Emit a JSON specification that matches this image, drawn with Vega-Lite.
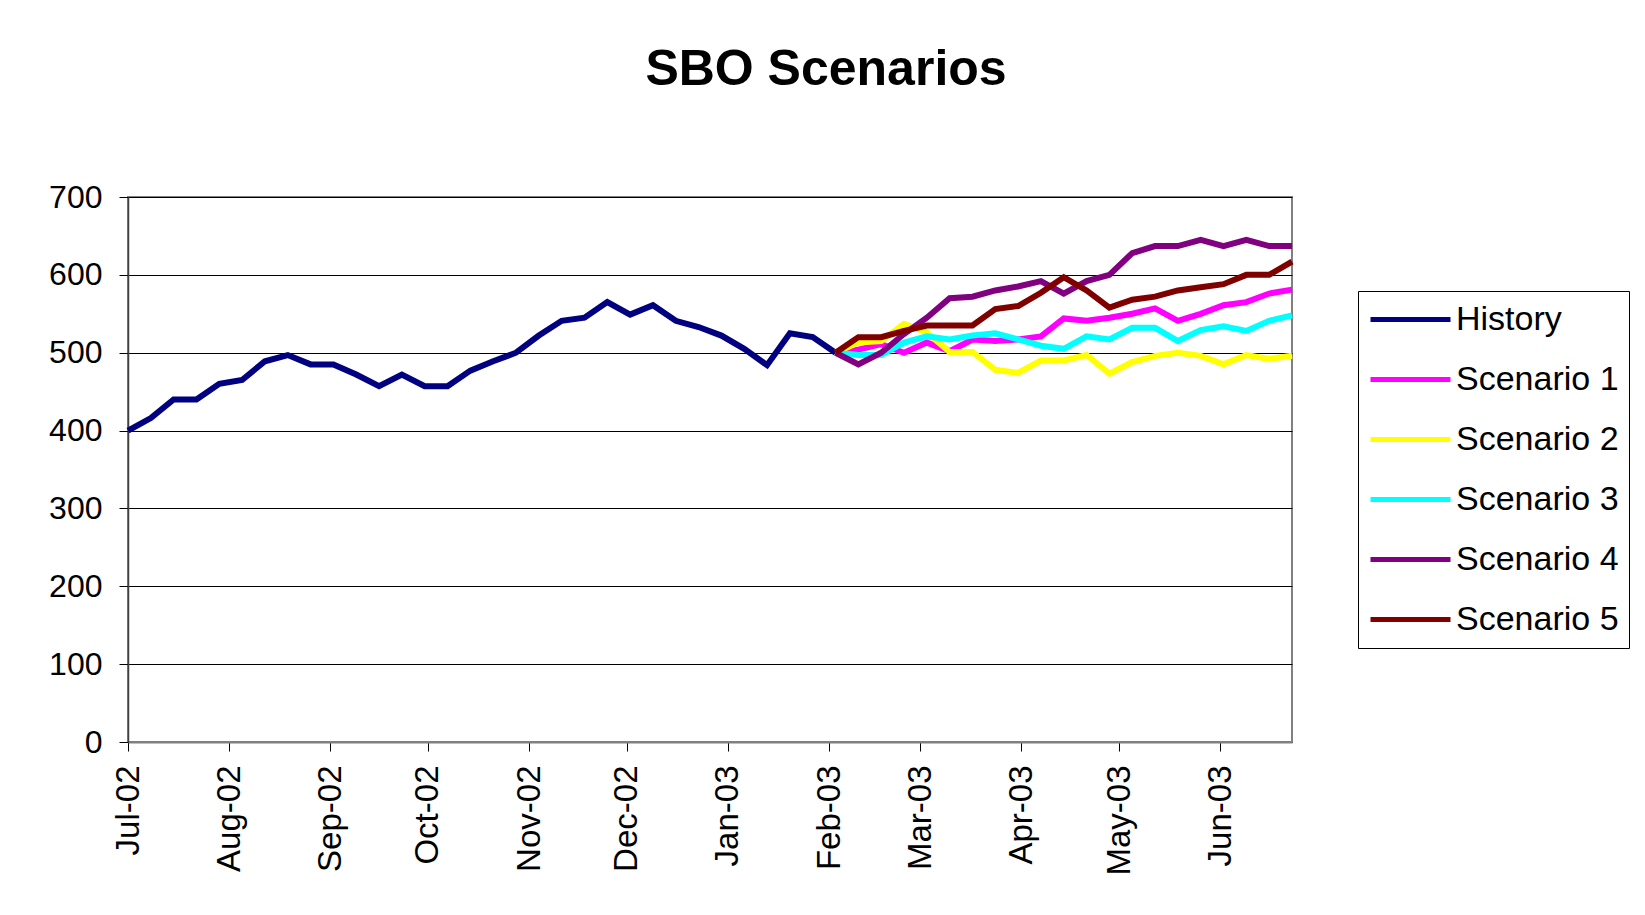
{
  "$schema": "https://vega.github.io/schema/vega-lite/v6.json",
  "autosize": {"type": "none"},
  "width": 1164,
  "height": 545,
  "padding": {"left": 128, "top": 197, "right": 353, "bottom": 173},
  "background": "white",
  "title": {
    "text": "SBO Scenarios",
    "font": "Liberation Sans",
    "fontSize": 50,
    "fontWeight": "bold",
    "color": "black",
    "anchor": "middle",
    "dx": 116,
    "offset": 86
  },
  "config": {
    "view": {"stroke": "#808080", "strokeWidth": 2},
    "axis": {
      "labelFont": "Liberation Sans",
      "labelFontSize": 32,
      "labelColor": "black",
      "tickColor": "black",
      "tickSize": 9,
      "title": null
    },
    "legend": {
      "labelFont": "Liberation Sans",
      "labelFontSize": 34,
      "labelColor": "black",
      "labelLimit": 400
    }
  },
  "data": {
    "values": [
      {"date": "2002-07-01", "series": "History", "value": 400},
      {"date": "2002-07-08", "series": "History", "value": 416},
      {"date": "2002-07-15", "series": "History", "value": 440},
      {"date": "2002-07-22", "series": "History", "value": 440},
      {"date": "2002-07-29", "series": "History", "value": 460},
      {"date": "2002-08-05", "series": "History", "value": 465},
      {"date": "2002-08-12", "series": "History", "value": 489},
      {"date": "2002-08-19", "series": "History", "value": 497},
      {"date": "2002-08-26", "series": "History", "value": 485},
      {"date": "2002-09-02", "series": "History", "value": 485},
      {"date": "2002-09-09", "series": "History", "value": 472},
      {"date": "2002-09-16", "series": "History", "value": 457},
      {"date": "2002-09-23", "series": "History", "value": 472},
      {"date": "2002-09-30", "series": "History", "value": 457},
      {"date": "2002-10-07", "series": "History", "value": 457},
      {"date": "2002-10-14", "series": "History", "value": 477},
      {"date": "2002-10-21", "series": "History", "value": 489},
      {"date": "2002-10-28", "series": "History", "value": 500},
      {"date": "2002-11-04", "series": "History", "value": 522},
      {"date": "2002-11-11", "series": "History", "value": 541},
      {"date": "2002-11-18", "series": "History", "value": 545},
      {"date": "2002-11-25", "series": "History", "value": 565},
      {"date": "2002-12-02", "series": "History", "value": 549},
      {"date": "2002-12-09", "series": "History", "value": 561},
      {"date": "2002-12-16", "series": "History", "value": 541},
      {"date": "2002-12-23", "series": "History", "value": 533},
      {"date": "2002-12-30", "series": "History", "value": 522},
      {"date": "2003-01-06", "series": "History", "value": 505},
      {"date": "2003-01-13", "series": "History", "value": 484},
      {"date": "2003-01-20", "series": "History", "value": 525},
      {"date": "2003-01-27", "series": "History", "value": 520},
      {"date": "2003-02-03", "series": "History", "value": 500},

      {"date": "2003-02-03", "series": "Scenario 1", "value": 500},
      {"date": "2003-02-10", "series": "Scenario 1", "value": 504},
      {"date": "2003-02-17", "series": "Scenario 1", "value": 511},
      {"date": "2003-02-24", "series": "Scenario 1", "value": 500},
      {"date": "2003-03-03", "series": "Scenario 1", "value": 513},
      {"date": "2003-03-10", "series": "Scenario 1", "value": 502},
      {"date": "2003-03-17", "series": "Scenario 1", "value": 517},
      {"date": "2003-03-24", "series": "Scenario 1", "value": 515},
      {"date": "2003-03-31", "series": "Scenario 1", "value": 517},
      {"date": "2003-04-07", "series": "Scenario 1", "value": 521},
      {"date": "2003-04-14", "series": "Scenario 1", "value": 544},
      {"date": "2003-04-21", "series": "Scenario 1", "value": 541},
      {"date": "2003-04-28", "series": "Scenario 1", "value": 545},
      {"date": "2003-05-05", "series": "Scenario 1", "value": 550},
      {"date": "2003-05-12", "series": "Scenario 1", "value": 557},
      {"date": "2003-05-19", "series": "Scenario 1", "value": 541},
      {"date": "2003-05-26", "series": "Scenario 1", "value": 550},
      {"date": "2003-06-02", "series": "Scenario 1", "value": 561},
      {"date": "2003-06-09", "series": "Scenario 1", "value": 565},
      {"date": "2003-06-16", "series": "Scenario 1", "value": 576},
      {"date": "2003-06-23", "series": "Scenario 1", "value": 581},

      {"date": "2003-02-03", "series": "Scenario 2", "value": 500},
      {"date": "2003-02-10", "series": "Scenario 2", "value": 513},
      {"date": "2003-02-17", "series": "Scenario 2", "value": 515},
      {"date": "2003-02-24", "series": "Scenario 2", "value": 537},
      {"date": "2003-03-03", "series": "Scenario 2", "value": 526},
      {"date": "2003-03-10", "series": "Scenario 2", "value": 501},
      {"date": "2003-03-17", "series": "Scenario 2", "value": 501},
      {"date": "2003-03-24", "series": "Scenario 2", "value": 478},
      {"date": "2003-03-31", "series": "Scenario 2", "value": 474},
      {"date": "2003-04-07", "series": "Scenario 2", "value": 490},
      {"date": "2003-04-14", "series": "Scenario 2", "value": 490},
      {"date": "2003-04-21", "series": "Scenario 2", "value": 497},
      {"date": "2003-04-28", "series": "Scenario 2", "value": 473},
      {"date": "2003-05-05", "series": "Scenario 2", "value": 488},
      {"date": "2003-05-12", "series": "Scenario 2", "value": 496},
      {"date": "2003-05-19", "series": "Scenario 2", "value": 500},
      {"date": "2003-05-26", "series": "Scenario 2", "value": 496},
      {"date": "2003-06-02", "series": "Scenario 2", "value": 485},
      {"date": "2003-06-09", "series": "Scenario 2", "value": 497},
      {"date": "2003-06-16", "series": "Scenario 2", "value": 492},
      {"date": "2003-06-23", "series": "Scenario 2", "value": 496},

      {"date": "2003-02-03", "series": "Scenario 3", "value": 500},
      {"date": "2003-02-10", "series": "Scenario 3", "value": 497},
      {"date": "2003-02-17", "series": "Scenario 3", "value": 497},
      {"date": "2003-02-24", "series": "Scenario 3", "value": 513},
      {"date": "2003-03-03", "series": "Scenario 3", "value": 521},
      {"date": "2003-03-10", "series": "Scenario 3", "value": 517},
      {"date": "2003-03-17", "series": "Scenario 3", "value": 522},
      {"date": "2003-03-24", "series": "Scenario 3", "value": 525},
      {"date": "2003-03-31", "series": "Scenario 3", "value": 517},
      {"date": "2003-04-07", "series": "Scenario 3", "value": 509},
      {"date": "2003-04-14", "series": "Scenario 3", "value": 505},
      {"date": "2003-04-21", "series": "Scenario 3", "value": 521},
      {"date": "2003-04-28", "series": "Scenario 3", "value": 517},
      {"date": "2003-05-05", "series": "Scenario 3", "value": 532},
      {"date": "2003-05-12", "series": "Scenario 3", "value": 532},
      {"date": "2003-05-19", "series": "Scenario 3", "value": 515},
      {"date": "2003-05-26", "series": "Scenario 3", "value": 529},
      {"date": "2003-06-02", "series": "Scenario 3", "value": 534},
      {"date": "2003-06-09", "series": "Scenario 3", "value": 528},
      {"date": "2003-06-16", "series": "Scenario 3", "value": 541},
      {"date": "2003-06-23", "series": "Scenario 3", "value": 548},

      {"date": "2003-02-03", "series": "Scenario 4", "value": 500},
      {"date": "2003-02-10", "series": "Scenario 4", "value": 485},
      {"date": "2003-02-17", "series": "Scenario 4", "value": 500},
      {"date": "2003-02-24", "series": "Scenario 4", "value": 524},
      {"date": "2003-03-03", "series": "Scenario 4", "value": 545},
      {"date": "2003-03-10", "series": "Scenario 4", "value": 570},
      {"date": "2003-03-17", "series": "Scenario 4", "value": 572},
      {"date": "2003-03-24", "series": "Scenario 4", "value": 580},
      {"date": "2003-03-31", "series": "Scenario 4", "value": 585},
      {"date": "2003-04-07", "series": "Scenario 4", "value": 592},
      {"date": "2003-04-14", "series": "Scenario 4", "value": 576},
      {"date": "2003-04-21", "series": "Scenario 4", "value": 592},
      {"date": "2003-04-28", "series": "Scenario 4", "value": 600},
      {"date": "2003-05-05", "series": "Scenario 4", "value": 628},
      {"date": "2003-05-12", "series": "Scenario 4", "value": 637},
      {"date": "2003-05-19", "series": "Scenario 4", "value": 637},
      {"date": "2003-05-26", "series": "Scenario 4", "value": 645},
      {"date": "2003-06-02", "series": "Scenario 4", "value": 637},
      {"date": "2003-06-09", "series": "Scenario 4", "value": 645},
      {"date": "2003-06-16", "series": "Scenario 4", "value": 637},
      {"date": "2003-06-23", "series": "Scenario 4", "value": 637},

      {"date": "2003-02-03", "series": "Scenario 5", "value": 500},
      {"date": "2003-02-10", "series": "Scenario 5", "value": 520},
      {"date": "2003-02-17", "series": "Scenario 5", "value": 520},
      {"date": "2003-02-24", "series": "Scenario 5", "value": 528},
      {"date": "2003-03-03", "series": "Scenario 5", "value": 535},
      {"date": "2003-03-10", "series": "Scenario 5", "value": 535},
      {"date": "2003-03-17", "series": "Scenario 5", "value": 535},
      {"date": "2003-03-24", "series": "Scenario 5", "value": 556},
      {"date": "2003-03-31", "series": "Scenario 5", "value": 560},
      {"date": "2003-04-07", "series": "Scenario 5", "value": 577},
      {"date": "2003-04-14", "series": "Scenario 5", "value": 597},
      {"date": "2003-04-21", "series": "Scenario 5", "value": 580},
      {"date": "2003-04-28", "series": "Scenario 5", "value": 558},
      {"date": "2003-05-05", "series": "Scenario 5", "value": 568},
      {"date": "2003-05-12", "series": "Scenario 5", "value": 572},
      {"date": "2003-05-19", "series": "Scenario 5", "value": 580},
      {"date": "2003-05-26", "series": "Scenario 5", "value": 584},
      {"date": "2003-06-02", "series": "Scenario 5", "value": 588},
      {"date": "2003-06-09", "series": "Scenario 5", "value": 600},
      {"date": "2003-06-16", "series": "Scenario 5", "value": 600},
      {"date": "2003-06-23", "series": "Scenario 5", "value": 617}
    ]
  },
  "mark": {"type": "line", "strokeWidth": 6, "strokeJoin": "miter", "strokeCap": "butt"},
  "encoding": {
    "x": {
      "field": "date",
      "type": "temporal",
      "scale": {
        "type": "utc",
        "domain": [
          {"year": 2002, "month": 7, "date": 1, "utc": true},
          {"year": 2003, "month": 6, "date": 23, "utc": true}
        ],
        "nice": false
      },
      "axis": {
        "values": [
          {"year": 2002, "month": 7, "date": 1, "utc": true},
          {"year": 2002, "month": 8, "date": 1, "utc": true},
          {"year": 2002, "month": 9, "date": 1, "utc": true},
          {"year": 2002, "month": 10, "date": 1, "utc": true},
          {"year": 2002, "month": 11, "date": 1, "utc": true},
          {"year": 2002, "month": 12, "date": 1, "utc": true},
          {"year": 2003, "month": 1, "date": 1, "utc": true},
          {"year": 2003, "month": 2, "date": 1, "utc": true},
          {"year": 2003, "month": 3, "date": 1, "utc": true},
          {"year": 2003, "month": 4, "date": 1, "utc": true},
          {"year": 2003, "month": 5, "date": 1, "utc": true},
          {"year": 2003, "month": 6, "date": 1, "utc": true}
        ],
        "labelExpr": "utcFormat(datum.value, '%b-%y')",
        "labelAngle": -90,
        "labelFontSize": 33,
        "labelPadding": 14,
        "labelFlush": false,
        "labelOverlap": false,
        "grid": false,
        "domainColor": "#808080",
        "domainWidth": 2
      }
    },
    "y": {
      "field": "value",
      "type": "quantitative",
      "scale": {"domain": [0, 700], "nice": false, "zero": true},
      "axis": {
        "values": [0, 100, 200, 300, 400, 500, 600, 700],
        "labelPadding": 17,
        "grid": true,
        "gridColor": "black",
        "gridWidth": 1,
        "domainColor": "#404040",
        "domainWidth": 1.5
      }
    },
    "color": {
      "field": "series",
      "type": "nominal",
      "scale": {
        "domain": ["History", "Scenario 1", "Scenario 2", "Scenario 3", "Scenario 4", "Scenario 5"],
        "range": ["#000080", "#FF00FF", "#FFFF00", "#00FFFF", "#800080", "#800000"]
      },
      "legend": {
        "title": null,
        "orient": "none",
        "legendX": 1230,
        "legendY": 94,
        "symbolType": "stroke",
        "symbolSize": 6400,
        "symbolStrokeWidth": 5,
        "clipHeight": 37,
        "strokeColor": "black",
        "fillColor": "white",
        "padding": 10,
        "labelOffset": 3,
        "rowPadding": 23
      }
    }
  }
}
